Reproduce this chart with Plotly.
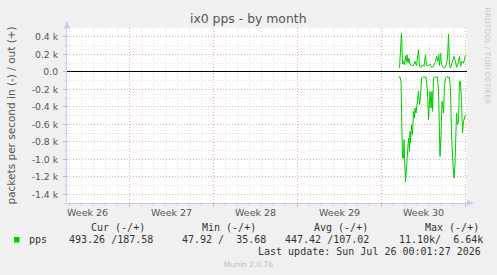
import datetime as dt
import plotly.graph_objects as go

# ---------------- data ----------------
base_time = dt.datetime(2026, 7, 20, 0, 0)  # hours below are offsets from this moment

out_hours = [35, 37, 41, 43, 45, 47, 49, 51, 52, 54, 56, 58, 61, 65, 68, 71, 75, 77, 80, 83,
             86, 89, 91, 95, 98, 101, 105, 109, 111, 113, 115, 117, 119, 121, 125, 128, 131,
             133, 135, 137, 139, 143, 146, 149, 151, 155, 157, 159, 162, 165, 169]
out_pps = [42, 50, 442, 88, 118, 80, 175, 118, 194, 99, 156, 88, 72, 72, 118, 72, 251, 61, 50, 80,
           61, 194, 72, 72, 88, 50, 61, 118, 175, 118, 194, 72, 213, 80, 50, 50, 88,
           156, 430, 80, 42, 118, 175, 118, 50, 118, 175, 61, 118, 99, 188]

in_hours = [35, 38, 40, 42, 43, 45, 46, 47, 49, 51, 53, 55, 57, 58, 59, 61, 63, 65, 67, 68,
            70, 73, 75, 77, 79, 81, 85, 90, 93, 95, 97, 98, 100, 102, 103, 105, 108, 113,
            115, 117, 118, 120, 122, 123, 125, 127, 129, 131, 133, 135, 137, 139, 141, 144,
            146, 148, 150, 151, 153, 155, 157, 159, 161, 163, 165, 167, 169]
in_pps = [61, 61, 110, 530, 987, 987, 777, 987, 1253, 1101, 911, 758, 911, 682, 815, 606, 720, 453, 530, 415,
          472, 301, 225, 377, 282, 72, 61, 61, 225, 549, 339, 225, 415, 225, 453, 72, 61, 61,
          225, 644, 968, 720, 339, 358, 472, 149, 72, 61, 53, 72, 61, 225, 720, 1063,
          1215, 1063, 606, 472, 606, 568, 110, 110, 339, 701, 568, 511, 493]

week_starts = ["2026-06-22", "2026-06-29", "2026-07-06", "2026-07-13", "2026-07-20"]
week_labels = ["Week 26", "Week 27", "Week 28", "Week 29", "Week 30"]

y_tickvals = [400, 200, 0, -200, -400, -600, -800, -1000, -1200, -1400]
y_ticktext = ["0.4 k", "0.2 k", "0.0", "-0.2 k", "-0.4 k", "-0.6 k", "-0.8 k", "-1.0 k", "-1.2 k", "-1.4 k"]

title_text = "ix0 pps - by month"
y_title = "packets per second in (-) / out (+)"
series_name = "pps"
legend_headers = ["Cur (-/+)", "Min (-/+)", "Avg (-/+)", "Max (-/+)"]
legend_values = ["493.26 /187.58", "47.92 /  35.68", "447.42 /107.02", "11.10k/  6.64k"]
last_update = "Last update: Sun Jul 26 00:01:27 2026"
footer = "Munin 2.0.76"
side_text = "RRDTOOL / TOBI OETIKER"

# ---------------- figure ----------------
W, H = 497, 275
L, R, T, B = 67, 467, 28, 203   # plot-area pixel box


def px(x):
    return (x - L) / (R - L)


def py(y):
    return (B - y) / (B - T)


GREEN = "#00CC00"
out_x = [base_time + dt.timedelta(hours=h) for h in out_hours]
in_x = [base_time + dt.timedelta(hours=h) for h in in_hours]

fig = go.Figure()
fig.add_trace(go.Scatter(x=in_x, y=[-v for v in in_pps], mode="lines",
                         line=dict(color=GREEN, width=1), showlegend=False, name=series_name))
fig.add_trace(go.Scatter(x=out_x, y=out_pps, mode="lines",
                         line=dict(color=GREEN, width=1), showlegend=False, name=series_name))

x_start = base_time - dt.timedelta(days=(381 - L) / 12)
x_end = base_time + dt.timedelta(days=(R - 381) / 12)

MAJ = "#eaa8a8"
MIN = "#d8d8d8"
AXC = "#c8c8f0"

fig.update_xaxes(
    type="date", range=[x_start, x_end],
    tickmode="linear", tick0=week_starts[0], dtick=7 * 86400000,
    showticklabels=False, ticks="outside", ticklen=3, tickcolor=MAJ,
    showgrid=True, gridcolor=MAJ, griddash="1px,2px", gridwidth=1,
    minor=dict(tick0=week_starts[0], dtick=86400000, showgrid=True, gridcolor=MIN,
               griddash="1px,2px", ticks="outside", ticklen=2, tickcolor=MIN),
    showline=True, linecolor=AXC, linewidth=1, zeroline=False, fixedrange=True,
)
fig.update_yaxes(
    range=[-1500, 500], tickmode="array", tickvals=y_tickvals, ticktext=y_ticktext,
    ticks="outside", ticklen=3, tickcolor=MAJ, ticklabelstandoff=3,
    tickfont=dict(family="DejaVu Sans", size=9.3, color="#555555"),
    showgrid=True, gridcolor=MAJ, griddash="1px,2px", gridwidth=1,
    minor=dict(dtick=100, tick0=0, showgrid=True, gridcolor=MIN, griddash="1px,2px",
               ticks="outside", ticklen=2, tickcolor=MIN),
    zeroline=True, zerolinecolor="#000000", zerolinewidth=1,
    showline=True, linecolor=AXC, linewidth=1, fixedrange=True,
)

ann = []
# title
ann.append(dict(text=title_text, x=px(248), y=py(18.5), xref="paper", yref="paper",
                xanchor="center", yanchor="middle", showarrow=False,
                font=dict(family="DejaVu Sans", size=12.4, color="#555555")))
# y title
ann.append(dict(text=y_title, x=px(10), y=py(115.5), xref="paper", yref="paper",
                xanchor="center", yanchor="middle", showarrow=False, textangle=-90,
                font=dict(family="DejaVu Sans", size=10.5, color="#555555")))
# week labels
for ws, lab in zip(week_starts, week_labels):
    mid = dt.datetime.fromisoformat(ws) + dt.timedelta(days=3.5)
    ann.append(dict(text=lab, x=mid, y=py(212.3), xref="x", yref="paper",
                    xanchor="center", yanchor="middle", showarrow=False,
                    font=dict(family="DejaVu Sans", size=9.5, color="#555555")))
# legend
mono = dict(family="DejaVu Sans Mono", size=10, color="#333333")
for hx, htxt in zip([89.3, 200.0, 311.7, 422.7], legend_headers):
    ann.append(dict(text=htxt, x=px(hx), y=py(227.3), xref="paper", yref="paper",
                    xanchor="left", yanchor="middle", showarrow=False, font=mono))
ann.append(dict(text=series_name, x=px(26.7), y=py(239.3), xref="paper", yref="paper",
                xanchor="left", yanchor="middle", showarrow=False, font=mono))
for vx, vtxt in zip([66.7, 180.3, 282.7, 397.3], legend_values):
    ann.append(dict(text=vtxt.replace(" ", "&nbsp;"), x=px(vx), y=py(239.3), xref="paper", yref="paper",
                    xanchor="left", yanchor="middle", showarrow=False, font=mono))
ann.append(dict(text=last_update, x=px(482.7), y=py(251.7), xref="paper", yref="paper",
                xanchor="right", yanchor="middle", showarrow=False, font=mono))
ann.append(dict(text=footer, x=px(248), y=py(264.3), xref="paper", yref="paper",
                xanchor="center", yanchor="middle", showarrow=False,
                font=dict(family="DejaVu Sans", size=7.5, color="#bbbbbb")))
ann.append(dict(text=side_text, x=px(487), y=py(5), xref="paper", yref="paper",
                xanchor="center", yanchor="top", showarrow=False, textangle=90,
                font=dict(family="DejaVu Sans", size=7.5, color="#c8c8c8")))

shapes = [
    # legend swatch
    dict(type="rect", xref="paper", yref="paper", x0=px(14), x1=px(19.5), y0=py(242.5), y1=py(237),
         fillcolor=GREEN, line=dict(width=0)),
    # y axis arrow
    dict(type="path", xref="paper", yref="paper",
         path=f"M {px(64)} {py(28)} L {px(70)} {py(28)} L {px(67)} {py(21)} Z",
         fillcolor=AXC, line=dict(width=0)),
    # x axis arrow
    dict(type="path", xref="paper", yref="paper",
         path=f"M {px(467)} {py(200)} L {px(467)} {py(206)} L {px(474)} {py(203)} Z",
         fillcolor=AXC, line=dict(width=0)),
]

fig.update_layout(
    width=W, height=H, margin=dict(l=L, r=W - R, t=T, b=H - B, pad=0),
    paper_bgcolor="#F0F0F0", plot_bgcolor="#FFFFFF",
    showlegend=False, annotations=ann, shapes=shapes,
    font=dict(family="DejaVu Sans", color="#555555"),
)

fig.write_html("out.html", config={"displayModeBar": False})
